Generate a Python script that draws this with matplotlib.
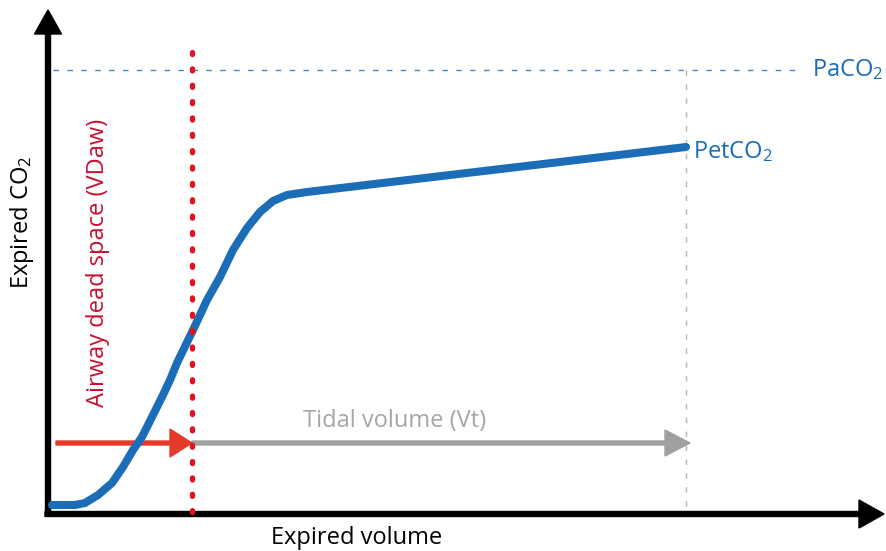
import matplotlib
matplotlib.use('Agg')
import matplotlib.pyplot as plt

plt.rcParams['font.family'] = ['Open Sans', 'DejaVu Sans']
plt.rcParams['mathtext.default'] = 'regular'

# capnogram curve (pixel coords, y grows downward)
curva_x = [52, 65, 75, 85, 98, 112, 123, 133, 142, 152, 162, 170, 177, 193, 207, 220, 233, 247, 260, 273, 287, 307, 450, 560, 686]
curva_y = [505, 505, 505, 503, 495, 483, 467, 450, 437, 417, 397, 380, 363, 330, 300, 277, 250, 228, 212, 201, 195, 192, 175, 162, 147]

paco2_y = 70
vdaw_x = 192
vt_fin = 690
flecha_y = 443

azul = '#1c6db7'
rojo = '#e0141e'

fig = plt.figure(figsize=(8.87, 5.51), dpi=100)
ax = fig.add_axes([0, 0, 1, 1])
ax.set_xlim(0, 887)
ax.set_ylim(551, 0)
ax.axis('off')

# ejes con flechas
ax.arrow(48, 516, 0, -506, width=5, head_width=27, head_length=24, fc='black', ec='black', length_includes_head=True)
ax.arrow(45, 514, 839, 0, width=5, head_width=28, head_length=25, fc='black', ec='black', length_includes_head=True)

# PaCO2 linea
ax.plot([53, 800], [paco2_y, paco2_y], ls=(0, (4, 6)), color='#3a8ad6', lw=1)
ax.plot([686, 686], [paco2_y, 512], ls=(0, (4, 6)), color='#b5b5b5', lw=1)

# curva
ax.plot(curva_x, curva_y, color=azul, lw=5.8, solid_capstyle='round', solid_joinstyle='round')

# flechas
ax.arrow(192, flecha_y, vt_fin - 192, 0, width=4, head_width=26, head_length=25, fc='#a0a0a0', ec='#a0a0a0', length_includes_head=True)
ax.arrow(56, flecha_y, vdaw_x - 56, 0, width=4, head_width=28, head_length=22, fc='#e43a2c', ec='#e43a2c', length_includes_head=True)

# linea VDaw
ax.plot([vdaw_x, vdaw_x], [52, 512], color=rojo, lw=3.8, ls=(0, (0.4, 2.7)), dash_capstyle='round')

# textos
ax.text(812, 70, 'PaCO$_2$', color=azul, fontsize=17, va='center', ha='left')
ax.text(693, 152, 'PetCO$_2$', color=azul, fontsize=17, va='center', ha='left')
ax.text(395, 421, 'Tidal volume (Vt)', color='#a6a6a6', fontsize=17, va='center', ha='center')
ax.text(98, 263, 'Airway dead space (VDaw)', color='#c8102e', fontsize=17, va='center', ha='center', rotation=90)
ax.text(22, 222, 'Expired CO$_2$', color='black', fontsize=17, va='center', ha='center', rotation=90)
ax.text(357, 538, 'Expired volume', color='black', fontsize=17, va='center', ha='center')

fig.savefig('out.png', dpi=100)
